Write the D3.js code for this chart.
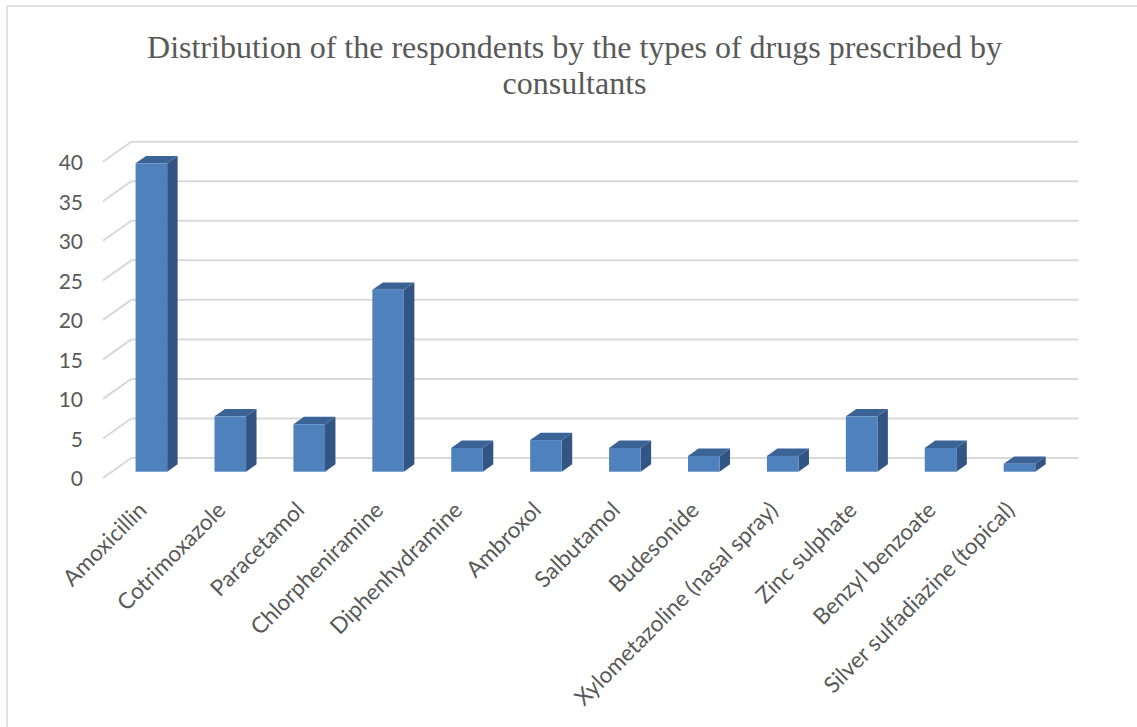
<!DOCTYPE html>
<html>
<head>
<meta charset="utf-8">
<script src="https://cdn.jsdelivr.net/npm/d3@7"></script>
<style>
  body { margin: 0; background: #fff; }
  svg { display: block; }
</style>
</head>
<body>
<svg id="chart" width="1137" height="727"></svg>
<script>
// Drug types prescribed by consultants (number of respondents)
const categories = [
  "Amoxicillin", "Cotrimoxazole", "Paracetamol", "Chlorpheniramine",
  "Diphenhydramine", "Ambroxol", "Salbutamol", "Budesonide",
  "Xylometazoline (nasal spray)", "Zinc sulphate", "Benzyl benzoate",
  "Silver sulfadiazine (topical)"
];
const counts = [39, 7, 6, 23, 3, 4, 3, 2, 2, 7, 3, 1];
const yTicks = [0, 5, 10, 15, 20, 25, 30, 35, 40];
const titleLines = [
  "Distribution of the respondents by the types of drugs prescribed by",
  "consultants"
];

const svg = d3.select("#chart");
const textColor = "#595959";
const gridColor = "#d9d9d9";

// chart frame
svg.append("rect")
  .attr("x", 7).attr("y", 6)
  .attr("width", 1140).attr("height", 740)
  .attr("fill", "#fff")
  .attr("stroke", gridColor).attr("stroke-width", 1.5);

// title
svg.append("text")
  .attr("x", 574.5).attr("y", 58)
  .attr("text-anchor", "middle")
  .attr("font-family", "'Liberation Serif', 'Times New Roman', serif")
  .attr("font-size", 32)
  .attr("fill", textColor)
  .selectAll("tspan")
  .data(titleLines)
  .join("tspan")
  .attr("x", 574.5)
  .attr("dy", (d, i) => i === 0 ? 0 : 36)
  .text(d => d);

// oblique 3D geometry: front floor edge and depth vector
const depthDx = 28.3, depthDy = -20;
const x = d3.scaleBand().domain(categories).range([103, 1050]);
const y = d3.scaleLinear().domain([0, 40]).range([478, 161.7]);

// gridlines on the back wall and the left side wall
const grid = svg.append("g")
  .attr("stroke", gridColor).attr("stroke-width", 2).attr("fill", "none");
grid.selectAll("line.back")
  .data(yTicks)
  .join("line")
  .attr("class", "back")
  .attr("x1", x.range()[0] + depthDx)
  .attr("x2", x.range()[1] + depthDx)
  .attr("y1", d => y(d) + depthDy)
  .attr("y2", d => y(d) + depthDy);
grid.selectAll("line.side")
  .data(yTicks)
  .join("line")
  .attr("class", "side")
  .attr("x1", x.range()[0])
  .attr("x2", x.range()[0] + depthDx)
  .attr("y1", d => y(d))
  .attr("y2", d => y(d) + depthDy);

// y axis labels
svg.append("g")
  .attr("font-family", "Lato, 'Open Sans', sans-serif")
  .attr("font-size", 21)
  .attr("fill", textColor)
  .attr("text-anchor", "end")
  .selectAll("text")
  .data(yTicks)
  .join("text")
  .attr("x", 83)
  .attr("y", d => y(d) + 1)
  .attr("dy", "0.35em")
  .text(d => d);

// 3D bars: front face, top face, right side face
const f0 = 0.315, f1 = 0.685;
const barW = x.bandwidth() * 0.4;
const ddx = (f1 - f0) * depthDx, ddy = (f1 - f0) * depthDy;
const data = categories.map((c, i) => ({ c, v: counts[i] }));

const bars = svg.append("g").selectAll("g")
  .data(data)
  .join("g");

function geom(d) {
  const x0 = x(d.c) + (x.bandwidth() - barW) / 2 + f0 * depthDx;
  const yt = y(d.v) + f0 * depthDy;
  const yb = y(0) + f0 * depthDy;
  return { x0, x1: x0 + barW, yt, yb };
}

bars.append("polygon")
  .attr("fill", "#325583")
  .attr("points", d => {
    const g = geom(d);
    return [[g.x1, g.yt], [g.x1 + ddx, g.yt + ddy], [g.x1 + ddx, g.yb + ddy], [g.x1, g.yb]].join(" ");
  });
bars.append("polygon")
  .attr("fill", "#3b6396")
  .attr("points", d => {
    const g = geom(d);
    return [[g.x0, g.yt], [g.x1, g.yt], [g.x1 + ddx, g.yt + ddy], [g.x0 + ddx, g.yt + ddy]].join(" ");
  });
bars.append("rect")
  .attr("fill", "#4f81bd")
  .attr("x", d => geom(d).x0)
  .attr("y", d => geom(d).yt)
  .attr("width", barW)
  .attr("height", d => geom(d).yb - geom(d).yt);

// category labels, rotated
svg.append("g")
  .attr("font-family", "Lato, 'Open Sans', sans-serif")
  .attr("font-size", 22.5)
  .attr("fill", textColor)
  .attr("text-anchor", "end")
  .selectAll("text")
  .data(categories)
  .join("text")
  .attr("transform", d => `translate(${x(d) + x.bandwidth() / 2},506) rotate(-45)`)
  .attr("dy", "0.35em")
  .text(d => d);
</script>
</body>
</html>
